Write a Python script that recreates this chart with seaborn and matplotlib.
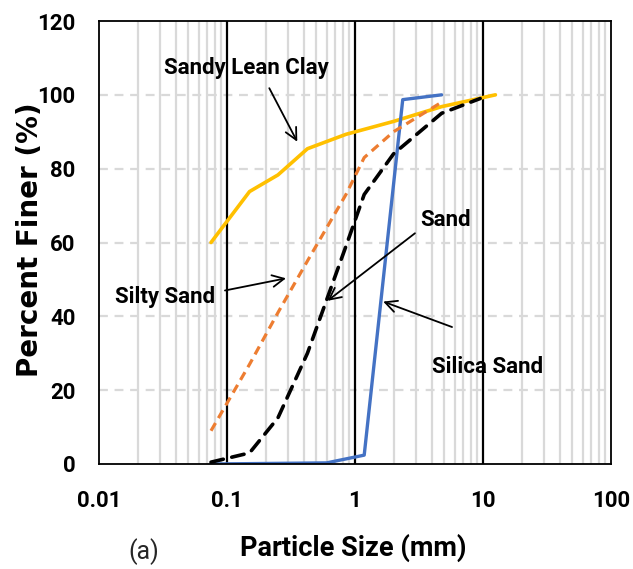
import matplotlib
matplotlib.use("Agg")
import matplotlib.pyplot as plt
import seaborn as sns
import pandas as pd
import numpy as np
from matplotlib.ticker import LogLocator, NullFormatter

# ---- data ----
silica_size = [0.075, 0.6, 1.18, 2.36, 4.75]
silica_pct = [0.0, 0.3, 2.4, 98.7, 100.0]

sand_size = [0.075, 0.15, 0.25, 0.425, 0.85, 1.18, 2.0, 4.75, 9.5]
sand_pct = [0.5, 3.0, 12.5, 30.0, 59.0, 73.0, 84.0, 95.0, 99.0]

silty_size = [0.075, 0.15, 0.25, 0.425, 0.85, 1.18, 2.0, 4.75]
silty_pct = [9.0, 27.0, 41.0, 55.0, 73.0, 83.0, 90.0, 98.0]

clay_size = [0.075, 0.15, 0.25, 0.425, 0.85, 2.0, 4.75, 12.5]
clay_pct = [60.0, 73.8, 78.3, 85.4, 89.3, 92.8, 96.8, 100.0]

x_ticks = [0.01, 0.1, 1, 10, 100]
x_ticklabels = ["0.01", "0.1", "1", "10", "100"]
y_ticks = [0, 20, 40, 60, 80, 100, 120]

sns.set_theme(style="white")
FONT = ["Roboto", "DejaVu Sans"]
plt.rcParams["font.family"] = FONT

fig = plt.figure(figsize=(6.33, 5.69), dpi=100)
ax = fig.add_axes([99 / 633, 1 - 464 / 569, 512 / 633, 443 / 569])

ax.set_xscale("log")
ax.set_xlim(0.01, 100)
ax.set_ylim(0, 120)

# grids
ax.xaxis.set_minor_locator(LogLocator(base=10, subs=np.arange(2, 10)))
ax.xaxis.set_minor_formatter(NullFormatter())
ax.grid(which="minor", axis="x", color="#d9d9d9", linewidth=1.6, zorder=0)
for v in [0.1, 1, 10]:
    ax.axvline(v, color="black", linewidth=1.6, zorder=1)
for v in y_ticks[1:-1]:
    ax.axhline(v, color="#d9d9d9", linewidth=1.6, linestyle=(0, (4, 3)), zorder=0.5)

# curves
df_clay = pd.DataFrame({"size": clay_size, "pct": clay_pct})
df_silty = pd.DataFrame({"size": silty_size, "pct": silty_pct})
df_sand = pd.DataFrame({"size": sand_size, "pct": sand_pct})
df_silica = pd.DataFrame({"size": silica_size, "pct": silica_pct})

sns.lineplot(data=df_clay, x="size", y="pct", ax=ax, sort=False, color="#FFC000",
             linewidth=2.6, zorder=3)
sns.lineplot(data=df_silica, x="size", y="pct", ax=ax, sort=False, color="#4472C4",
             linewidth=2.4, zorder=3)
sns.lineplot(data=df_silty, x="size", y="pct", ax=ax, sort=False, color="#ED7D31",
             linewidth=2.3, zorder=4)
ax.lines[-1].set_dashes([2.8, 1.8])
sns.lineplot(data=df_sand, x="size", y="pct", ax=ax, sort=False, color="black",
             linewidth=2.6, zorder=4)
ax.lines[-1].set_dashes([3.5, 2.4])
ax.lines[-1].set_dash_capstyle("round")

# axes styling
for s in ax.spines.values():
    s.set_color("black")
    s.set_linewidth(1.3)
    s.set_zorder(5)
ax.set_xticks(x_ticks)
ax.set_xticklabels(x_ticklabels)
ax.set_yticks(y_ticks)
ax.tick_params(axis="both", which="major", direction="out", length=7, width=1.3,
               color="black", labelsize=16, labelcolor="black")
ax.tick_params(axis="x", which="major", pad=12)
ax.tick_params(axis="y", which="major", pad=10)
ax.tick_params(axis="x", which="minor", length=0)
for lab in ax.get_xticklabels() + ax.get_yticklabels():
    lab.set_fontweight("bold")

ax.set_xlabel("Particle Size (mm)", fontsize=19.5, fontweight="bold", color="black")
ax.xaxis.set_label_coords(0.496, -0.19)
ax.xaxis.label.set_va("center")
ax.set_ylabel("Percent Finer (%)", fontsize=20, fontweight="bold", color="black",
              family=["DejaVu Sans"])
ax.yaxis.set_label_coords(-0.135, 0.506)
ax.yaxis.label.set_va("center")

fig.text(144 / 633, 1 - 552 / 569, "(a)", fontsize=18, ha="center", va="center")

# annotations
arrow = dict(arrowstyle="->,head_length=0.7,head_width=0.35", color="black", lw=1.3,
             shrinkA=0, shrinkB=0)
tkw = dict(fontsize=16, fontweight="bold", ha="center", va="center", color="black")

ax.text(0.1406, 107.3, "Sandy Lean Clay", **tkw, zorder=6)
ax.annotate("", xy=(0.354, 87.3), xytext=(0.214, 101.8), arrowprops=arrow, zorder=6)

ax.text(0.0328, 45.3, "Silty Sand", **tkw, zorder=6)
ax.annotate("", xy=(0.289, 50.3), xytext=(0.0964, 47.0), arrowprops=arrow, zorder=6)

ax.text(5.14, 66.1, "Sand", **tkw, zorder=6)
ax.annotate("", xy=(0.61, 44.2), xytext=(2.94, 62.5), arrowprops=arrow, zorder=6)

ax.text(10.94, 26.3, "Silica Sand", **tkw, zorder=6)
ax.annotate("", xy=(1.66, 44.0), xytext=(5.73, 37.1), arrowprops=arrow, zorder=6)

fig.savefig("out.png", dpi=100)
